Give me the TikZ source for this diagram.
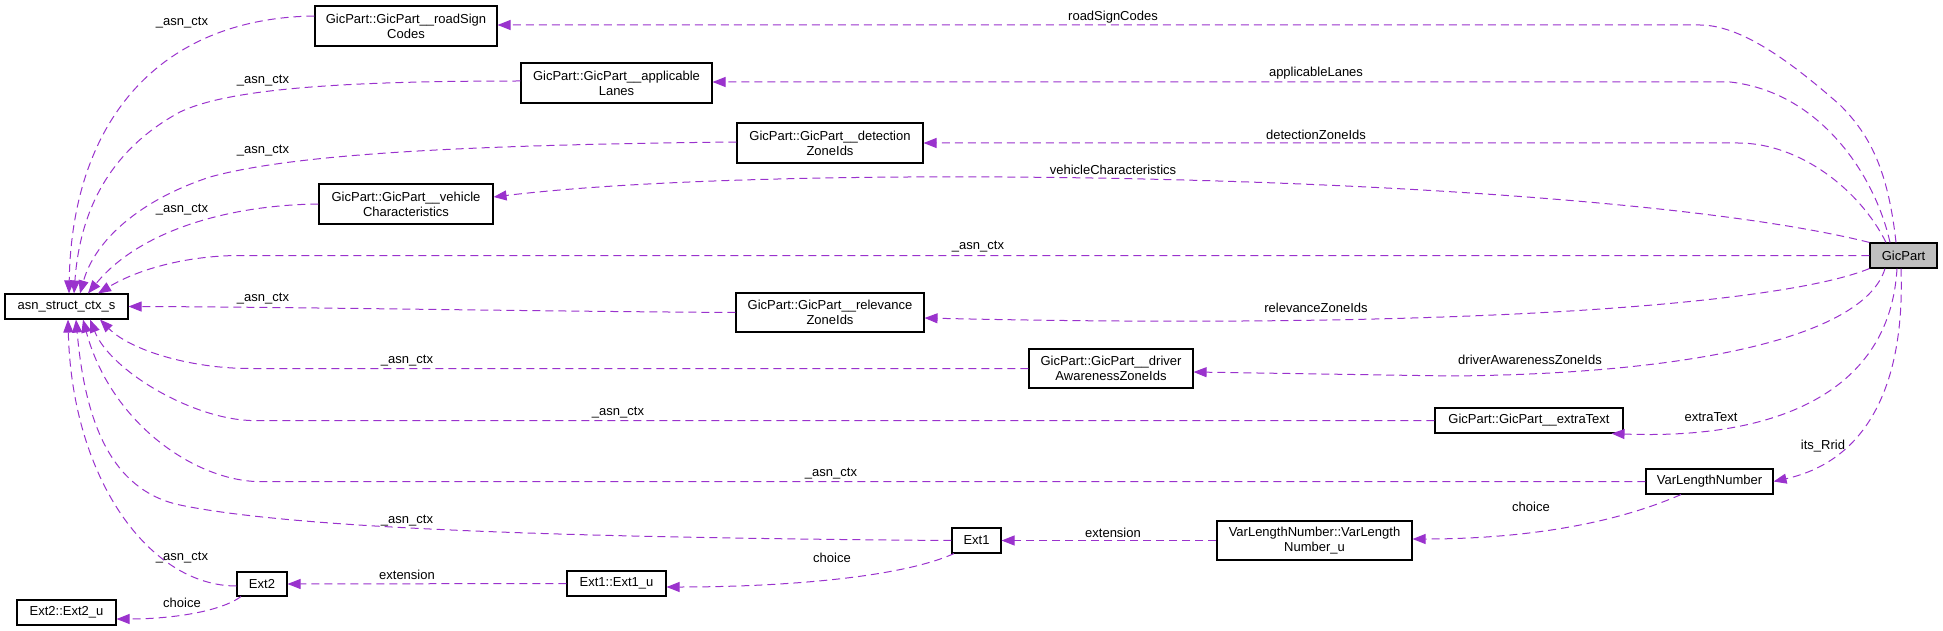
\documentclass[tikz,border=0pt]{standalone}
\usepackage{fontspec}
\setmainfont{Liberation Sans}
\usetikzlibrary{arrows.meta}
\definecolor{edgec}{HTML}{9A32CD}
\definecolor{mainfill}{HTML}{BFBFBF}
\begin{document}
\begin{tikzpicture}[x=1pt,y=-1pt,
  cls/.style={draw=black, line width=1.1pt, fill=white, inner sep=0pt, align=center, font=\fontsize{13}{15}\selectfont},
  lbl/.style={inner sep=0pt, font=\fontsize{13}{15}\selectfont},
  dep/.style={draw=edgec, line width=1pt, dash pattern=on 8pt off 5pt, -{Triangle[length=13pt,width=10pt]}}]
\useasboundingbox (0,0) rectangle (1943,631);
% nodes
\node[cls, minimum width=182, minimum height=40] (rs) at (406,26) {GicPart::GicPart\_\_roadSign\\Codes};
\node[cls, minimum width=191, minimum height=40] (al) at (616.5,83) {GicPart::GicPart\_\_applicable\\Lanes};
\node[cls, minimum width=186, minimum height=40] (dz) at (830,143) {GicPart::GicPart\_\_detection\\ZoneIds};
\node[cls, minimum width=174, minimum height=40] (vc) at (406,204) {GicPart::GicPart\_\_vehicle\\Characteristics};
\node[cls, fill=mainfill, minimum width=67, minimum height=25] (g) at (1903.5,255.5) {GicPart};
\node[cls, minimum width=123, minimum height=25] (asn) at (66.5,306.5) {asn\_struct\_ctx\_s};
\node[cls, minimum width=188, minimum height=39] (rel) at (830,312.5) {GicPart::GicPart\_\_relevance\\ZoneIds};
\node[cls, minimum width=164, minimum height=39] (dr) at (1111,368.5) {GicPart::GicPart\_\_driver\\AwarenessZoneIds};
\node[cls, minimum width=188, minimum height=25] (et) at (1529,420.5) {GicPart::GicPart\_\_extraText};
\node[cls, minimum width=127, minimum height=25] (vln) at (1709.5,481.5) {VarLengthNumber};
\node[cls, minimum width=195, minimum height=39] (vlnu) at (1314.5,540.5) {VarLengthNumber::VarLength\\Number\_u};
\node[cls, minimum width=49, minimum height=25] (e1) at (976.5,540.5) {Ext1};
\node[cls, minimum width=99, minimum height=25] (e1u) at (616.5,583.5) {Ext1::Ext1\_u};
\node[cls, minimum width=50, minimum height=24] (e2) at (262,584) {Ext2};
\node[cls, minimum width=99, minimum height=25] (e2u) at (66.5,612.5) {Ext2::Ext2\_u};
% edges to asn_struct_ctx_s
\draw[dep] ([yshift=10pt]rs.west) .. controls (160,18) and (72,120) .. ([xshift=2.5pt]asn.north);
\draw[dep] ([yshift=2pt]al.west) .. controls (350,81) and (230,88) .. (180,112) .. controls (110,150) and (80,210) .. ([xshift=7.5pt]asn.north);
\draw[dep] ([yshift=1pt]dz.west) .. controls (450,145) and (290,155) .. (210,177) .. controls (140,200) and (95,240) .. ([xshift=13.5pt]asn.north);
\draw[dep] (vc.west) .. controls (230,205) and (140,230) .. ([xshift=21.5pt]asn.north);
\draw[dep] (g.west) -- (240,255.5) .. controls (190,255.5) and (140,268) .. ([xshift=31.5pt]asn.north);
\draw[dep] (rel.west) .. controls (500,311) and (300,307) .. (asn.east);
\draw[dep] (dr.west) -- (250,368.5) .. controls (190,368.5) and (130,350) .. ([xshift=33.5pt]asn.south);
\draw[dep] (et.west) -- (250,420.5) .. controls (190,418) and (110,370) .. ([xshift=23.5pt]asn.south);
\draw[dep] (vln.west) -- (255,481.5) .. controls (190,478) and (110,420) .. ([xshift=16.5pt]asn.south);
\draw[dep] (e1.west) .. controls (600,538) and (300,530) .. (180,505) .. controls (110,490) and (85,420) .. ([xshift=9.5pt]asn.south);
\draw[dep] ([yshift=-2pt]e2.west) .. controls (150,586) and (72,480) .. ([xshift=1.5pt]asn.south);
% edges from GicPart
\draw[dep] ([xshift=-7.5pt]g.north) .. controls (1888,170) and (1870,135) .. (1840,105) .. controls (1800,70) and (1745,25) .. (1700,25) -- ([yshift=1pt]rs.east);
\draw[dep] ([xshift=-13.5pt]g.north) .. controls (1875,175) and (1820,92) .. (1730,82) -- ([yshift=1pt]al.east);
\draw[dep] ([xshift=-17.5pt]g.north) .. controls (1860,190) and (1800,143) .. (1738,143) -- (dz.east);
\draw[dep] (g.north west) .. controls (1600,175) and (800,160) .. ([yshift=7pt]vc.east);
\draw[dep] (g.south west) .. controls (1780,305) and (1450,330) .. ([yshift=-5.5pt]rel.east);
\draw[dep] ([xshift=-18.5pt]g.south) .. controls (1865,335) and (1700,374) .. (1450,376) -- ([yshift=-3.5pt]dr.east);
\draw[dep] ([xshift=-6.5pt]g.south) .. controls (1890,390) and (1780,440) .. ([xshift=-12pt]et.south east);
\draw[dep] ([xshift=-2.5pt]g.south) .. controls (1905,380) and (1870,460) .. (vln.east);
% lower chain
\draw[dep] ([xshift=-28.5pt]vln.south) .. controls (1600,530) and (1500,539) .. ([yshift=1.5pt]vlnu.east);
\draw[dep] (vlnu.west) -- (e1.east);
\draw[dep] ([xshift=-22.5pt]e1.south) .. controls (900,578) and (780,587) .. ([yshift=-3.5pt]e1u.east);
\draw[dep] (e1u.west) -- (e2.east);
\draw[dep] ([xshift=-21pt]e2.south) .. controls (220,612) and (170,619) .. ([yshift=-6.5pt]e2u.east);
% labels
\node[lbl] (la1) at (182,23) {\_asn\_ctx};
\node[lbl] (la2) at (263,81) {\_asn\_ctx};
\node[lbl] (la3) at (263,151) {\_asn\_ctx};
\node[lbl] (la4) at (182,210) {\_asn\_ctx};
\node[lbl] (la5) at (978,247) {\_asn\_ctx};
\node[lbl] (la6) at (263,299) {\_asn\_ctx};
\node[lbl] (la7) at (407,361) {\_asn\_ctx};
\node[lbl] (la8) at (618,413) {\_asn\_ctx};
\node[lbl] (la9) at (831,474) {\_asn\_ctx};
\node[lbl] (la10) at (407,521) {\_asn\_ctx};
\node[lbl] (la11) at (182,558) {\_asn\_ctx};
\node[lbl] (lrs) at (1113,17) {roadSignCodes};
\node[lbl] (lal) at (1316,73) {applicableLanes};
\node[lbl] (ldz) at (1316,135) {detectionZoneIds};
\node[lbl] (lvc) at (1113,170) {vehicleCharacteristics};
\node[lbl] (lrel) at (1316,308) {relevanceZoneIds};
\node[lbl] (ldr) at (1530,360) {driverAwarenessZoneIds};
\node[lbl] (let) at (1711,417) {extraText};
\node[lbl] (lrr) at (1823,446) {its\_Rrid};
\node[lbl] (lc1) at (1531,507) {choice};
\node[lbl] (lx1) at (1113,533) {extension};
\node[lbl] (lc2) at (832,558) {choice};
\node[lbl] (lx2) at (407,575) {extension};
\node[lbl] (lc3) at (182,603) {choice};
\end{tikzpicture}
\end{document}
